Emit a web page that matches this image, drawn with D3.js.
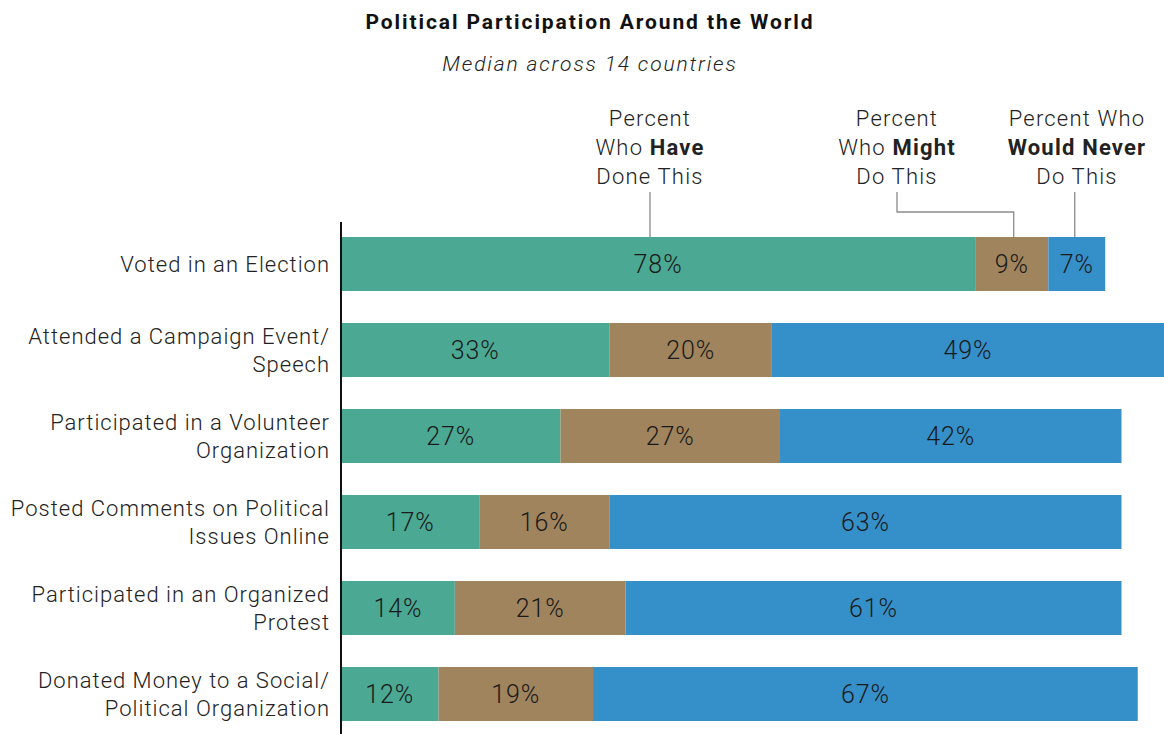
<!DOCTYPE html>
<html>
<head>
<meta charset="utf-8">
<script src="https://cdn.jsdelivr.net/npm/d3@7"></script>
<style>
  html, body { margin: 0; padding: 0; background: #fff; }
  svg { display: block; font-family: Roboto, "Noto Sans", sans-serif; }
</style>
</head>
<body>
<svg id="chart" width="1164" height="734"></svg>
<script>
// Survey activities (each label may wrap to two lines)
const categories = [
  ["Voted in an Election"],
  ["Attended a Campaign Event/", "Speech"],
  ["Participated in a Volunteer", "Organization"],
  ["Posted Comments on Political", "Issues Online"],
  ["Participated in an Organized", "Protest"],
  ["Donated Money to a Social/", "Political Organization"]
];
const haveDone   = [78, 33, 27, 17, 14, 12];
const mightDo    = [9, 20, 27, 16, 21, 19];
const wouldNever = [7, 49, 42, 63, 61, 67];

const seriesKeys = ["have", "might", "never"];
const seriesColors = ["#4ba993", "#a0845d", "#3590ca"];

const rows = categories.map((c, i) => ({
  key: c.join(" "),
  lines: c,
  have: haveDone[i],
  might: mightDo[i],
  never: wouldNever[i]
}));

const svg = d3.select("#chart");
const W = 1164, H = 734;
const left = 341;

const x = d3.scaleLinear().domain([0, 100]).range([left, left + 813]);
const y = d3.scaleBand()
  .domain(rows.map(d => d.key))
  .range([221, 737])
  .paddingInner(0.372)
  .paddingOuter(0.186);

const stacked = d3.stack().keys(seriesKeys)(rows);

// Stacked bars
const layers = svg.append("g").selectAll("g")
  .data(stacked)
  .join("g")
  .attr("fill", (d, i) => seriesColors[i]);

layers.selectAll("rect")
  .data(d => d)
  .join("rect")
  .attr("x", d => x(d[0]))
  .attr("y", d => y(d.data.key))
  .attr("width", d => x(d[1]) - x(d[0]))
  .attr("height", y.bandwidth());

// Value labels centred in each segment
layers.selectAll("text")
  .data(d => d)
  .join("text")
  .attr("x", d => (x(d[0]) + Math.min(x(d[1]), W)) / 2)
  .attr("y", d => y(d.data.key) + y.bandwidth() / 2)
  .attr("dy", "0.36em")
  .attr("text-anchor", "middle")
  .attr("font-size", 25)
  .attr("font-weight", 300)
  .attr("letter-spacing", 0.9)
  .attr("fill", "#1a1a1a")
  .text(d => (d[1] - d[0]) + "%");

// Category labels
const catG = svg.append("g");
rows.forEach(r => {
  const cy = y(r.key) + y.bandwidth() / 2;
  const n = r.lines.length;
  const t = catG.append("text")
    .attr("text-anchor", "end")
    .attr("font-size", 22)
    .attr("font-weight", 300)
    .attr("letter-spacing", 1.0)
    .attr("fill", "#222");
  r.lines.forEach((ln, j) => {
    t.append("tspan")
      .attr("x", 330)
      .attr("y", cy + (j - (n - 1) / 2) * 28)
      .attr("dy", "0.36em")
      .text(ln);
  });
});

// Vertical axis line
svg.append("line")
  .attr("x1", left).attr("x2", left)
  .attr("y1", 222).attr("y2", H)
  .attr("stroke", "#111").attr("stroke-width", 2);

// Title and subtitle
svg.append("text")
  .attr("x", 590).attr("y", 29)
  .attr("text-anchor", "middle")
  .attr("font-size", 21).attr("font-weight", "bold")
  .attr("letter-spacing", 1.9)
  .attr("fill", "#111")
  .text("Political Participation Around the World");

svg.append("text")
  .attr("x", 590).attr("y", 71)
  .attr("text-anchor", "middle")
  .attr("font-size", 21).attr("font-style", "italic")
  .attr("font-weight", 300)
  .attr("letter-spacing", 1.85)
  .attr("fill", "#222")
  .text("Median across 14 countries");

// Series callouts above the first bar
const first = stacked.map(s => s[0]);
const mid = d => (x(d[0]) + x(d[1])) / 2;
const callouts = [
  { cx: 650, target: 650, elbow: false,
    lines: [[["Percent", false]], [["Who ", false], ["Have", true]], [["Done This", false]]] },
  { cx: 897, target: mid(first[1]) + 2, elbow: true,
    lines: [[["Percent", false]], [["Who ", false], ["Might", true]], [["Do This", false]]] },
  { cx: 1077, target: mid(first[2]) - 2, elbow: false,
    lines: [[["Percent Who", false]], [["Would Never", true]], [["Do This", false]]] }
];

const barTop = y(rows[0].key);
const cg = svg.append("g");
callouts.forEach(c => {
  const t = cg.append("text")
    .attr("text-anchor", "middle")
    .attr("font-size", 22)
    .attr("font-weight", 300)
    .attr("letter-spacing", 1.2)
    .attr("fill", "#222");
  c.lines.forEach((ln, j) => {
    const line = t.append("tspan").attr("x", c.cx).attr("y", 126 + j * 29);
    ln.forEach(([s, b], m) => {
      const sp = m === 0 ? line : t.append("tspan");
      sp.text(s).attr("font-weight", b ? "bold" : null);
    });
  });
  // leader line
  const path = c.elbow
    ? `M${c.cx},192 V212 H${c.target} V${barTop}`
    : `M${c.target},192 V${barTop}`;
  cg.append("path")
    .attr("d", path)
    .attr("fill", "none")
    .attr("stroke", "#8a8a8a")
    .attr("stroke-width", 1.3);
});
</script>
</body>
</html>
